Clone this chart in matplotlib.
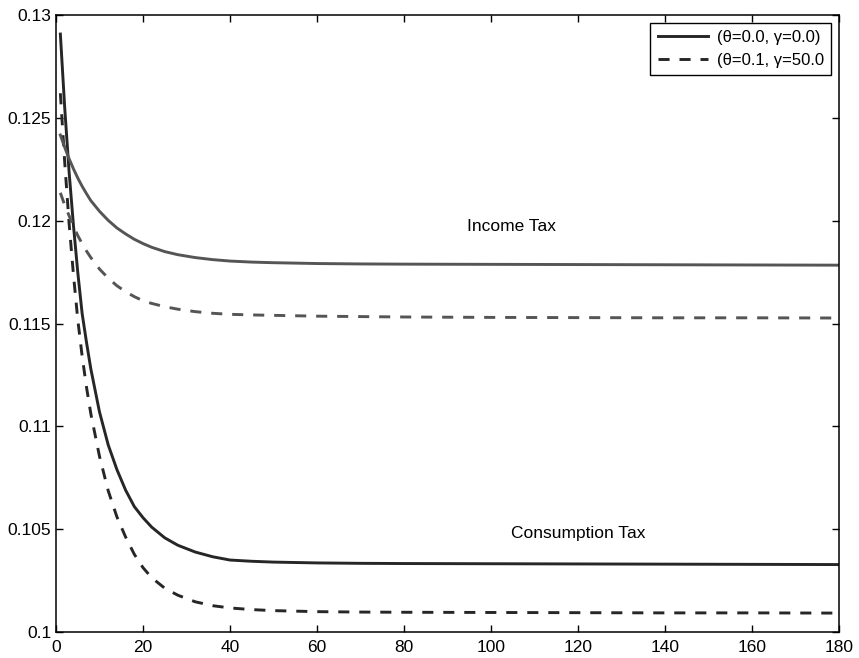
import matplotlib
matplotlib.use("Agg")
import matplotlib.pyplot as plt

plt.rcParams['font.family'] = ['Liberation Sans', 'DejaVu Sans']

t = [1, 2, 3, 4, 5, 6, 7, 8, 10, 12, 14, 16, 18, 20, 22, 25, 28, 32, 36, 40,
     45, 50, 60, 70, 80, 100, 120, 140, 160, 180]

# consumption tax
cons_base = [0.12908, 0.1255, 0.1224, 0.1198, 0.1175, 0.1155, 0.1141, 0.1128,
             0.1107, 0.1091, 0.1079, 0.1069, 0.1061, 0.10556, 0.1051, 0.10458,
             0.10422, 0.10389, 0.10366, 0.1035, 0.10344, 0.1034, 0.10336,
             0.10334, 0.10333, 0.10332, 0.10331, 0.1033, 0.10329, 0.10328]
cons_alt = [0.1262, 0.12285, 0.1199, 0.1174, 0.1152, 0.11343, 0.11192, 0.11062,
            0.10854, 0.10687, 0.1056, 0.10462, 0.10378, 0.10313, 0.10264,
            0.10213, 0.10179, 0.10147, 0.10128, 0.10117, 0.10109, 0.10104,
            0.10099, 0.10097, 0.10096, 0.10095, 0.10094, 0.10093, 0.10093,
            0.10092]

# income tax
inc_base = [0.12417, 0.12357, 0.12302, 0.12253, 0.12208, 0.12168, 0.12132,
            0.12098, 0.12046, 0.12002, 0.11965, 0.11936, 0.1191, 0.11889,
            0.11871, 0.1185, 0.11835, 0.11821, 0.11811, 0.11804, 0.11799,
            0.11796, 0.11792, 0.1179, 0.11789, 0.11788, 0.11787, 0.11786,
            0.11785, 0.11784]
inc_alt = [0.12136, 0.12076, 0.12025, 0.11973, 0.11928, 0.11889, 0.11853,
           0.11821, 0.11765, 0.11721, 0.11684, 0.11655, 0.11631, 0.11611,
           0.11598, 0.11582, 0.1157, 0.11558, 0.1155, 0.11545, 0.11542,
           0.1154, 0.11536, 0.11534, 0.11532, 0.1153, 0.11529, 0.11528,
           0.11528, 0.11527]

labels = [u"(\u03b8=0.0, \u03b3=0.0)", u"(\u03b8=0.1, \u03b3=50.0"]

fig = plt.figure(figsize=(8.59, 6.58), dpi=100)
ax = fig.add_axes([0.0652, 0.0395, 0.9115, 0.9375])

dark = "#262626"
grey = "#555555"
lw = 2.1
dash = (3.8, 3.4)

l1, = ax.plot(t, cons_base, color=dark, lw=lw)
l2, = ax.plot(t, cons_alt, color=dark, lw=lw, dashes=dash)
ax.plot(t, inc_base, color=grey, lw=lw)
ax.plot(t, inc_alt, color=grey, lw=lw, dashes=dash)

ax.text(104.6, 0.11974, "Income Tax", ha="center", va="center", fontsize=12.5)
ax.text(120, 0.10481, "Consumption Tax", ha="center", va="center", fontsize=12.5)

ax.set_xlim(0, 180)
ax.set_ylim(0.1, 0.13)
ax.set_xticks(range(0, 181, 20))
ax.set_yticks([0.1, 0.105, 0.11, 0.115, 0.12, 0.125, 0.13])
ax.set_yticklabels(["0.1", "0.105", "0.11", "0.115", "0.12", "0.125", "0.13"])
ax.tick_params(direction="in", top=True, right=True, length=5, width=1,
               labelsize=12.5)
ax.tick_params(axis="y", pad=3.5)
ax.tick_params(axis="x", pad=6)
for s in ax.spines.values():
    s.set_linewidth(1.1)

leg = ax.legend([l1, l2], labels, loc="upper right", fontsize=12,
                fancybox=False, framealpha=1, edgecolor="black",
                handlelength=3.0, borderaxespad=0.45, labelspacing=0.45,
                borderpad=0.45, handletextpad=0.55)
leg.get_frame().set_linewidth(1.0)

fig.savefig("out.png", dpi=100)
